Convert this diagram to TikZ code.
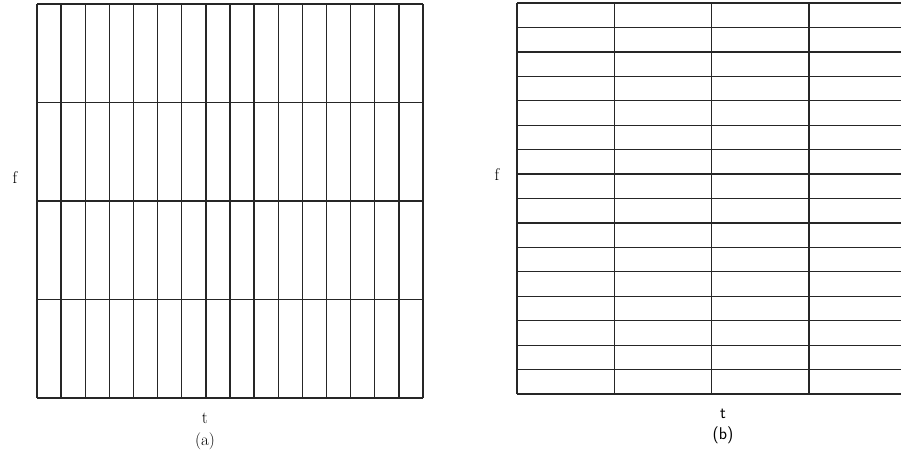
\documentclass[tikz,border=0pt]{standalone}
\usepackage{fontspec}
\usetikzlibrary{positioning}
\tikzset{
  gridline/.style={draw=black!85,line width=1.3pt},
  lab/.style={font=\fontsize{17}{20}\selectfont,inner sep=0pt},
  slab/.style={lab,font=\fontsize{17}{20}\selectfont\sffamily},
}
\begin{document}
\begin{tikzpicture}[x=1pt,y=-1pt]
\useasboundingbox (0,0) rectangle (901,453);
% (a) 16 narrow time slots, 4 frequency bands
\foreach \c in {0,...,16}{\draw[gridline] (37+\c*24.125,4) -- (37+\c*24.125,398);}
\foreach \r in {0,...,4}{\draw[gridline] (37,4+\r*98.5) -- (423,4+\r*98.5);}
\node[lab] (fa) at (15,178) {f};
\node[lab] (ta) at (205,418) {t};
\node[lab,below=9pt of ta] (capa) {(a)};
% (b) 4 wide time slots, 16 frequency bands (cut at the page edge)
\begin{scope}
\clip (0,0) rectangle (901,453);
\foreach \c in {0,...,4}{\draw[gridline] (517+\c*97.3,3) -- (517+\c*97.3,394);}
\foreach \r in {0,...,16}{\draw[gridline] (517,3+\r*24.44) -- (910,3+\r*24.44);}
\end{scope}
\node[lab] (fb) at (497,175) {f};
\node[slab] (tb) at (723,414) {t};
\node[slab,below=8pt of tb] (capb) {(b)};
\end{tikzpicture}
\end{document}
